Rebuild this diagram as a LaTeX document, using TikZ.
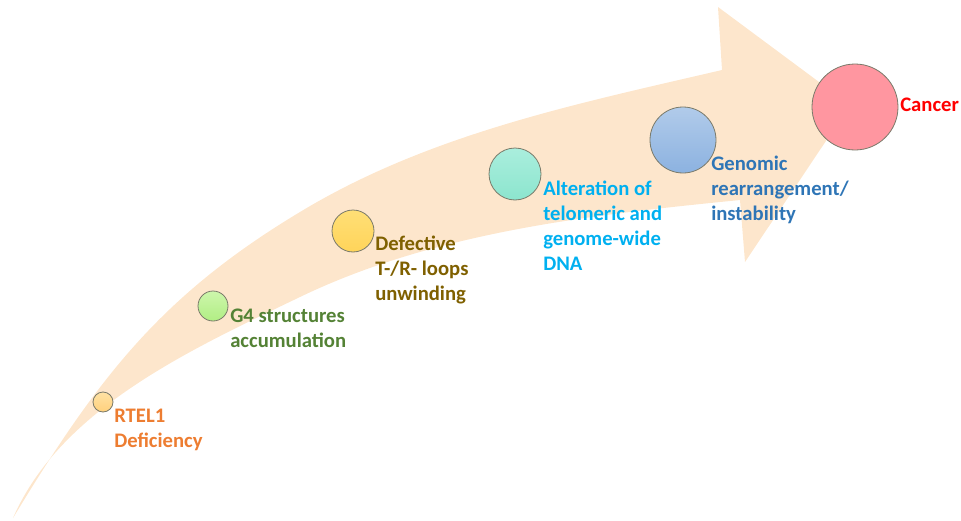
\documentclass[tikz,border=0pt]{standalone}
\usepackage{fontspec}
\setmainfont{Carlito}
\definecolor{arrowfill}{HTML}{FDE6CC}
\definecolor{ringc}{HTML}{7A7A6A}
\definecolor{tOrange}{HTML}{ED7D31}
\definecolor{tGreen}{HTML}{548235}
\definecolor{tBrown}{HTML}{7F6000}
\definecolor{tCyan}{HTML}{00B0F0}
\definecolor{tBlue}{HTML}{2E75B6}
\definecolor{tRed}{HTML}{FF0000}
\definecolor{c1t}{HTML}{FFE2A4}\definecolor{c1b}{HTML}{FFD07C}
\definecolor{c2t}{HTML}{CDF6AC}\definecolor{c2b}{HTML}{B1EE84}
\definecolor{c3t}{HTML}{FFDF76}\definecolor{c3b}{HTML}{FFD45A}
\definecolor{c4t}{HTML}{AAEEDD}\definecolor{c4b}{HTML}{8CE5CE}
\definecolor{c5t}{HTML}{B1CBEA}\definecolor{c5b}{HTML}{8CB2E0}
\definecolor{c6f}{HTML}{FF96A0}
\tikzset{
  ball/.style={circle, draw=ringc, line width=0.6pt, inner sep=0pt},
  lbl/.style={anchor=base west, inner sep=0pt, align=left,
    font=\fontsize{15.5}{18.75}\selectfont\bfseries},
}
\begin{document}
\begin{tikzpicture}[x=0.75pt, y=-0.75pt]
\useasboundingbox (0,0) rectangle (961,521);
% curved arrow
\fill[arrowfill] (13,518) .. controls (99,376) and (162,295) .. (300,212)
  .. controls (429,134) and (576,104) .. (722,70)
  -- (718,7) -- (850,105) -- (745,262) -- (740,200)
  .. controls (590,215) and (435,232) .. (300,297)
  .. controls (192,349) and (61,408) .. (13,518) -- cycle;
% circles
\node[ball, minimum size=15pt, top color=c1t, bottom color=c1b] (c1) at (103,402) {};
\node[ball, minimum size=22.5pt, top color=c2t, bottom color=c2b] (c2) at (213,306) {};
\node[ball, minimum size=31.5pt, top color=c3t, bottom color=c3b] (c3) at (353,231) {};
\node[ball, minimum size=39pt, top color=c4t, bottom color=c4b] (c4) at (515,174) {};
\node[ball, minimum size=49.5pt, top color=c5t, bottom color=c5b] (c5) at (683,140) {};
\node[ball, minimum size=64.5pt, fill=c6f] (c6) at (855,107) {};
% labels (base anchor = baseline of last line)
\node[lbl, text=tOrange] (t1) at (114,447) {RTEL1\\Deficiency};
\node[lbl, text=tGreen] (t2) at (230,347) {G4 structures\\accumulation};
\node[lbl, text=tBrown] (t3) at (375,300) {Defective\\T-/R- loops\\unwinding};
\node[lbl, text=tCyan] (t4) at (543,270) {Alteration of\\telomeric and\\genome-wide\\DNA};
\node[lbl, text=tBlue] (t5) at (711,220) {Genomic\\rearrangement/\\instability};
\node[lbl, text=tRed] (t6) at (900,111) {Cancer};
\end{tikzpicture}
\end{document}
